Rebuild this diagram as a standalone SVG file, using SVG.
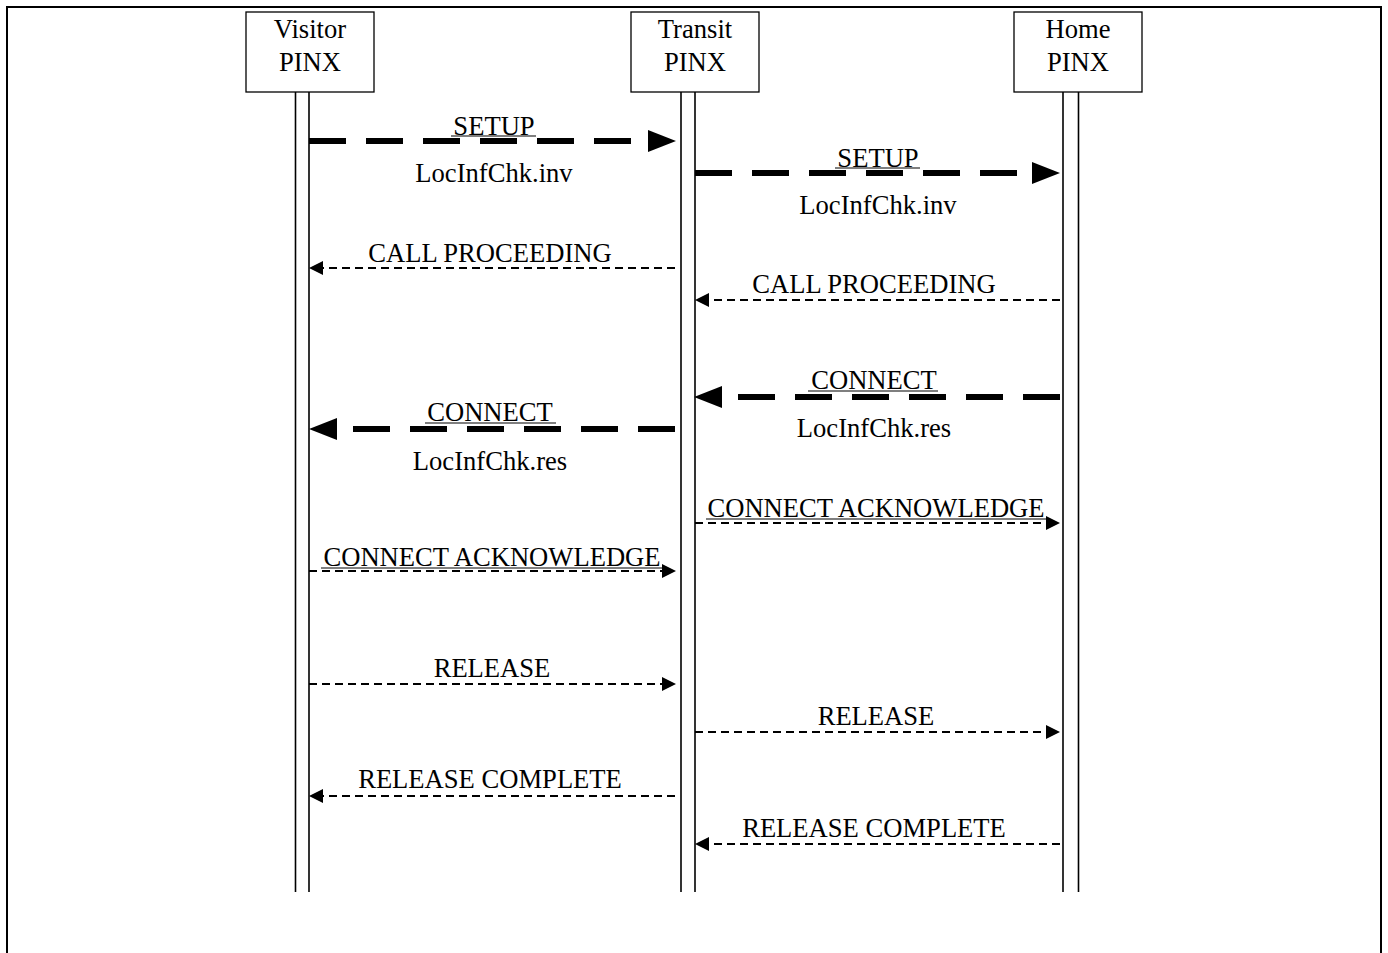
<svg xmlns="http://www.w3.org/2000/svg" width="1388" height="953" viewBox="0 0 1388 953">
<style>
text{font-family:"Liberation Serif","Times New Roman",serif;font-size:26.6px;fill:#000;text-anchor:middle}
.box{fill:#fff;stroke:#000;stroke-width:1.3}
.life{stroke:#000;stroke-width:1.6;fill:none}
.thick{stroke:#000;stroke-width:6;fill:none;stroke-dasharray:37 20}
.thin{stroke:#000;stroke-width:1.8;fill:none;stroke-dasharray:8 5}
.ul{stroke:#000;stroke-width:1.1}
.frame{stroke:#000;stroke-width:2;fill:none}
</style>
<defs>
<marker id="bigHead" markerUnits="userSpaceOnUse" markerWidth="28" markerHeight="22" refX="0" refY="11" orient="auto" viewBox="0 0 28 22"><path d="M0,0 L28,11 L0,22 z" fill="#000"/></marker>
<marker id="smallHead" markerUnits="userSpaceOnUse" markerWidth="14" markerHeight="14" refX="0" refY="7" orient="auto" viewBox="0 0 14 14"><path d="M0,0 L14,7 L0,14 z" fill="#000"/></marker>
</defs>
<rect width="1388" height="953" fill="#fff"/>
<path class="frame" d="M7,953 V7 H1381 V953"/>

<g id="visitor">
<rect class="box" x="246" y="12" width="128" height="80"/>
<text x="310" y="38">Visitor</text>
<text x="310" y="71">PINX</text>
<line class="life" x1="295.5" y1="92" x2="295.5" y2="892"/>
<line class="life" x1="309" y1="92" x2="309" y2="892"/>
</g>
<g id="transit">
<rect class="box" x="631" y="12" width="128" height="80"/>
<text x="695" y="38">Transit</text>
<text x="695" y="71">PINX</text>
<line class="life" x1="681" y1="92" x2="681" y2="892"/>
<line class="life" x1="695" y1="92" x2="695" y2="892"/>
</g>
<g id="home">
<rect class="box" x="1014" y="12" width="128" height="80"/>
<text x="1078" y="38">Home</text>
<text x="1078" y="71">PINX</text>
<line class="life" x1="1063" y1="92" x2="1063" y2="892"/>
<line class="life" x1="1078.5" y1="92" x2="1078.5" y2="892"/>
</g>

<g id="connectors">
<path class="thick" d="M309,141 H648" marker-end="url(#bigHead)"/>
<path class="thick" d="M695,173 H1032" marker-end="url(#bigHead)"/>
<path class="thin" d="M675,268 H323" marker-end="url(#smallHead)"/>
<path class="thin" d="M1060,300 H709" marker-end="url(#smallHead)"/>
<path class="thick" d="M1060,397 H722" marker-end="url(#bigHead)"/>
<path class="thick" d="M675,429 H337" marker-end="url(#bigHead)"/>
<path class="thin" d="M695,523 H1046" marker-end="url(#smallHead)"/>
<path class="thin" d="M309,571 H662" marker-end="url(#smallHead)"/>
<path class="thin" d="M309,684 H662" marker-end="url(#smallHead)"/>
<path class="thin" d="M695,732 H1046" marker-end="url(#smallHead)"/>
<path class="thin" d="M675,796 H323" marker-end="url(#smallHead)"/>
<path class="thin" d="M1060,844 H709" marker-end="url(#smallHead)"/>
</g>

<g id="labels">
<text x="494" y="135">SETUP</text>
<line class="ul" x1="451" y1="136" x2="536" y2="136"/>
<text x="494" y="182">LocInfChk.inv</text>
<text x="878" y="167">SETUP</text>
<line class="ul" x1="835" y1="168" x2="920" y2="168"/>
<text x="878" y="214">LocInfChk.inv</text>
<text x="490" y="262">CALL PROCEEDING</text>
<text x="874" y="293">CALL PROCEEDING</text>
<text x="874" y="389">CONNECT</text>
<line class="ul" x1="808" y1="391" x2="938" y2="391"/>
<text x="874" y="437">LocInfChk.res</text>
<text x="490" y="421">CONNECT</text>
<line class="ul" x1="425" y1="423" x2="556" y2="423"/>
<text x="490" y="470">LocInfChk.res</text>
<text x="876" y="517">CONNECT ACKNOWLEDGE</text>
<line class="ul" x1="706" y1="519" x2="1047" y2="519"/>
<text x="492" y="566">CONNECT ACKNOWLEDGE</text>
<line class="ul" x1="321" y1="568" x2="662" y2="568"/>
<text x="492" y="677">RELEASE</text>
<text x="876" y="725">RELEASE</text>
<text x="490" y="788">RELEASE COMPLETE</text>
<text x="874" y="837">RELEASE COMPLETE</text>
</g>
</svg>
